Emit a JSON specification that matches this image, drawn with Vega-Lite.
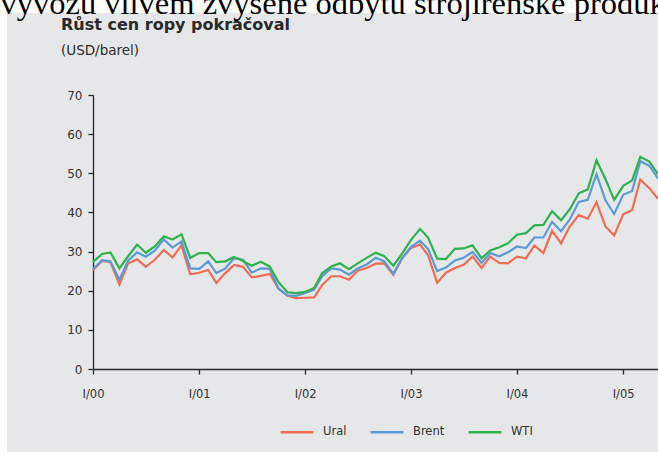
{
  "$schema": "https://vega.github.io/schema/vega-lite/v6.json",
  "width": 651,
  "height": 439,
  "autosize": "none",
  "padding": {"left": 7, "top": 13, "right": 0, "bottom": 0},
  "background": "white",
  "config": {"view": {"fill": "#e6e7e9", "stroke": null}, "font": "DejaVu Sans"},
  "title": {
    "text": "Růst cen ropy pokračoval",
    "subtitle": "(USD/barel)",
    "anchor": "start",
    "frame": "group",
    "dx": 54,
    "offset": -70,
    "font": "DejaVu Sans",
    "fontSize": 16,
    "fontWeight": "bold",
    "color": "#2a2a2a",
    "subtitleFont": "DejaVu Sans",
    "subtitleFontSize": 13.5,
    "subtitleColor": "#2a2a2a",
    "subtitlePadding": 10.5
  },
  "data": {
    "values": [
      {"date": "2000-01-01", "Ural": 25.2, "Brent": 25.5, "WTI": 27.3},
      {"date": "2000-02-01", "Ural": 27.6, "Brent": 27.8, "WTI": 29.4},
      {"date": "2000-03-01", "Ural": 27.3, "Brent": 27.5, "WTI": 29.8},
      {"date": "2000-04-01", "Ural": 21.6, "Brent": 22.8, "WTI": 25.7},
      {"date": "2000-05-01", "Ural": 27.0, "Brent": 27.7, "WTI": 28.8},
      {"date": "2000-06-01", "Ural": 28.0, "Brent": 29.8, "WTI": 31.8},
      {"date": "2000-07-01", "Ural": 26.1, "Brent": 28.7, "WTI": 29.7},
      {"date": "2000-08-01", "Ural": 27.9, "Brent": 30.2, "WTI": 31.3},
      {"date": "2000-09-01", "Ural": 30.4, "Brent": 33.1, "WTI": 33.9},
      {"date": "2000-10-01", "Ural": 28.5, "Brent": 31.0, "WTI": 33.1},
      {"date": "2000-11-01", "Ural": 31.6, "Brent": 32.6, "WTI": 34.4},
      {"date": "2000-12-01", "Ural": 24.2, "Brent": 25.7, "WTI": 28.4},
      {"date": "2001-01-01", "Ural": 24.6, "Brent": 25.6, "WTI": 29.6},
      {"date": "2001-02-01", "Ural": 25.3, "Brent": 27.5, "WTI": 29.6},
      {"date": "2001-03-01", "Ural": 22.0, "Brent": 24.5, "WTI": 27.3},
      {"date": "2001-04-01", "Ural": 24.5, "Brent": 25.7, "WTI": 27.5},
      {"date": "2001-05-01", "Ural": 26.6, "Brent": 28.3, "WTI": 28.6},
      {"date": "2001-06-01", "Ural": 26.1, "Brent": 27.9, "WTI": 27.6},
      {"date": "2001-07-01", "Ural": 23.4, "Brent": 24.6, "WTI": 26.4},
      {"date": "2001-08-01", "Ural": 23.8, "Brent": 25.7, "WTI": 27.4},
      {"date": "2001-09-01", "Ural": 24.3, "Brent": 25.6, "WTI": 26.2},
      {"date": "2001-10-01", "Ural": 20.6, "Brent": 20.5, "WTI": 22.2},
      {"date": "2001-11-01", "Ural": 18.7, "Brent": 18.8, "WTI": 19.6},
      {"date": "2001-12-01", "Ural": 18.1, "Brent": 18.7, "WTI": 19.4},
      {"date": "2002-01-01", "Ural": 18.2, "Brent": 19.4, "WTI": 19.7},
      {"date": "2002-02-01", "Ural": 18.3, "Brent": 20.3, "WTI": 20.7},
      {"date": "2002-03-01", "Ural": 21.5, "Brent": 23.7, "WTI": 24.5},
      {"date": "2002-04-01", "Ural": 23.7, "Brent": 25.7, "WTI": 26.2},
      {"date": "2002-05-01", "Ural": 23.7, "Brent": 25.4, "WTI": 27.0},
      {"date": "2002-06-01", "Ural": 22.8, "Brent": 24.1, "WTI": 25.5},
      {"date": "2002-07-01", "Ural": 25.1, "Brent": 25.7, "WTI": 27.0},
      {"date": "2002-08-01", "Ural": 25.8, "Brent": 26.7, "WTI": 28.4},
      {"date": "2002-09-01", "Ural": 26.9, "Brent": 28.4, "WTI": 29.7},
      {"date": "2002-10-01", "Ural": 27.0, "Brent": 27.5, "WTI": 28.8},
      {"date": "2002-11-01", "Ural": 24.0, "Brent": 24.3, "WTI": 26.4},
      {"date": "2002-12-01", "Ural": 28.3, "Brent": 28.3, "WTI": 29.5},
      {"date": "2003-01-01", "Ural": 30.9, "Brent": 31.2, "WTI": 33.0},
      {"date": "2003-02-01", "Ural": 31.8, "Brent": 32.8, "WTI": 35.8},
      {"date": "2003-03-01", "Ural": 29.0, "Brent": 30.6, "WTI": 33.5},
      {"date": "2003-04-01", "Ural": 22.0, "Brent": 25.0, "WTI": 28.2},
      {"date": "2003-05-01", "Ural": 24.6, "Brent": 25.9, "WTI": 28.1},
      {"date": "2003-06-01", "Ural": 25.8, "Brent": 27.7, "WTI": 30.7},
      {"date": "2003-07-01", "Ural": 26.6, "Brent": 28.4, "WTI": 30.8},
      {"date": "2003-08-01", "Ural": 28.7, "Brent": 29.9, "WTI": 31.6},
      {"date": "2003-09-01", "Ural": 25.8, "Brent": 27.1, "WTI": 28.3},
      {"date": "2003-10-01", "Ural": 28.7, "Brent": 29.6, "WTI": 30.3},
      {"date": "2003-11-01", "Ural": 27.1, "Brent": 28.8, "WTI": 31.1},
      {"date": "2003-12-01", "Ural": 27.0, "Brent": 29.8, "WTI": 32.1},
      {"date": "2004-01-01", "Ural": 28.7, "Brent": 31.3, "WTI": 34.3},
      {"date": "2004-02-01", "Ural": 28.3, "Brent": 30.9, "WTI": 34.7},
      {"date": "2004-03-01", "Ural": 31.6, "Brent": 33.6, "WTI": 36.7},
      {"date": "2004-04-01", "Ural": 29.6, "Brent": 33.6, "WTI": 36.8},
      {"date": "2004-05-01", "Ural": 35.3, "Brent": 37.6, "WTI": 40.3},
      {"date": "2004-06-01", "Ural": 32.1, "Brent": 35.2, "WTI": 38.0},
      {"date": "2004-07-01", "Ural": 36.4, "Brent": 38.2, "WTI": 40.8},
      {"date": "2004-08-01", "Ural": 39.3, "Brent": 42.7, "WTI": 44.9},
      {"date": "2004-09-01", "Ural": 38.4, "Brent": 43.2, "WTI": 45.9},
      {"date": "2004-10-01", "Ural": 42.6, "Brent": 49.8, "WTI": 53.3},
      {"date": "2004-11-01", "Ural": 36.4, "Brent": 43.1, "WTI": 48.5},
      {"date": "2004-12-01", "Ural": 34.1, "Brent": 39.6, "WTI": 43.2},
      {"date": "2005-01-01", "Ural": 39.5, "Brent": 44.5, "WTI": 46.8},
      {"date": "2005-02-01", "Ural": 40.6, "Brent": 45.5, "WTI": 48.2},
      {"date": "2005-03-01", "Ural": 48.4, "Brent": 53.1, "WTI": 54.2},
      {"date": "2005-04-01", "Ural": 46.2, "Brent": 51.9, "WTI": 53.0},
      {"date": "2005-05-01", "Ural": 43.5, "Brent": 48.7, "WTI": 49.8}
    ]
  },
  "transform": [{"fold": ["Ural", "Brent", "WTI"], "as": ["series", "price"]}],
  "mark": {"type": "line", "strokeWidth": 2.2, "clip": true},
  "encoding": {
    "x": {
      "field": "date",
      "type": "temporal",
      "scale": {
        "type": "utc",
        "domain": [{"year": 2000, "month": 1, "date": 1, "utc": true}, {"year": 2005, "month": 5, "date": 1, "utc": true}],
        "range": [86, 651]
      },
      "axis": {
        "orient": "bottom",
        "offset": -83,
        "values": [
          {"year": 2000, "month": 1, "date": 1, "utc": true},
          {"year": 2001, "month": 1, "date": 1, "utc": true},
          {"year": 2002, "month": 1, "date": 1, "utc": true},
          {"year": 2003, "month": 1, "date": 1, "utc": true},
          {"year": 2004, "month": 1, "date": 1, "utc": true},
          {"year": 2005, "month": 1, "date": 1, "utc": true}
        ],
        "labelExpr": "'I/' + utcFormat(datum.value, '%y')",
        "labelFlush": false,
        "labelOverlap": false,
        "grid": false,
        "domainColor": "#262626",
        "domainWidth": 1.3,
        "tickColor": "#262626",
        "tickWidth": 1.3,
        "tickSize": 5,
        "labelFont": "DejaVu Sans",
        "labelFontSize": 11.5,
        "labelColor": "#333333",
        "labelPadding": 14,
        "title": "vývozu vlivem zvýšené odbytu strojírenské produk",
        "titleX": -7,
        "titleY": -356,
        "titleAlign": "left",
        "titleAngle": 0,
        "titleBaseline": "alphabetic",
        "titleFont": "Liberation Serif",
        "titleFontSize": 32.5,
        "titleFontWeight": "normal",
        "titleColor": "#000000",
        "titleLimit": 2000
      }
    },
    "y": {
      "field": "price",
      "type": "quantitative",
      "scale": {"domain": [0, 70], "range": [356, 82], "nice": false, "zero": false},
      "axis": {
        "orient": "left",
        "offset": -86,
        "values": [0, 10, 20, 30, 40, 50, 60, 70],
        "labelFlush": false,
        "grid": false,
        "title": null,
        "domainColor": "#262626",
        "domainWidth": 1.3,
        "tickColor": "#262626",
        "tickWidth": 1.3,
        "tickSize": 5,
        "labelFont": "DejaVu Sans",
        "labelFontSize": 12,
        "labelColor": "#333333",
        "labelPadding": 6
      }
    },
    "color": {
      "field": "series",
      "type": "nominal",
      "scale": {"domain": ["Ural", "Brent", "WTI"], "range": ["#ef6c55", "#5b9bd5", "#2fb24e"]},
      "legend": {
        "orient": "none",
        "legendX": 272,
        "legendY": 401,
        "direction": "horizontal",
        "title": null,
        "padding": 0,
        "gridAlign": "each",
        "symbolType": "stroke",
        "symbolSize": 1089,
        "symbolStrokeWidth": 2.5,
        "labelFont": "DejaVu Sans",
        "labelFontSize": 11.5,
        "labelColor": "#333333",
        "labelOffset": 8,
        "columnPadding": 18
      }
    }
  }
}
